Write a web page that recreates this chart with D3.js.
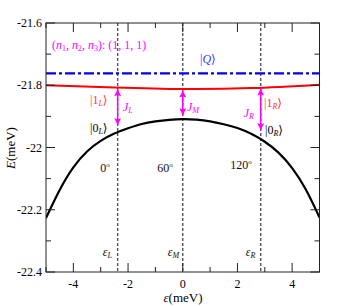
<!DOCTYPE html>
<html>
  <head>
    <script src="https://d3js.org/d3.v7.min.js"></script>
  </head>
  <body>
    <svg id="viz" width="353" height="306"></svg>
  </body>
  <script>
    // values
    const groundX = [-5, -4.5, -4, -3.5, -3, -2.5, -2, -1.5, -1, -0.5, 0, 0.5, 1, 1.5, 2, 2.5, 3, 3.5, 4, 4.5, 5];
    const groundE = [-22.227, -22.133, -22.06, -22.01, -21.977, -21.954, -21.938, -21.923, -21.916, -21.911, -21.908,
                     -21.91, -21.915, -21.925, -21.936, -21.955, -21.98, -22.014, -22.063, -22.13, -22.225];
    const excitedX = [-5, -2.5, 0, 2.5, 5];
    const excitedE = [-21.8, -21.807, -21.812, -21.809, -21.798];
    const qLevel = -21.762;
    const markers = [
      { name: "L", eps: -2.38, angle: "0" },
      { name: "M", eps: 0, angle: "60" },
      { name: "R", eps: 2.85, angle: "120" },
    ];
    const arrows = [
      { name: "L", eps: -2.38, top: -21.813, bottom: -21.928 },
      { name: "M", eps: 0, top: -21.817, bottom: -21.896 },
      { name: "R", eps: 2.85, top: -21.811, bottom: -21.944 },
    ];
    const xTicks = [-4, -2, 0, 2, 4];
    const yTicks = [-22.4, -22.2, -22, -21.8, -21.6];

    const svg = d3.select("svg#viz");
    const font = "'Liberation Serif', 'DejaVu Serif', serif";
    const mLeft = 46, mRight = 319.5, mTop = 23, mBottom = 272;

    const x = d3.scaleLinear().domain([-5, 5]).range([mLeft, mRight]);
    const y = d3.scaleLinear().domain([-22.4, -21.6]).range([mBottom, mTop]);

    svg.append("rect").attr("width", 353).attr("height", 306).attr("fill", "white");

    const defs = svg.append("defs");
    defs.append("clipPath").attr("id", "clip")
      .append("rect").attr("x", mLeft).attr("y", mTop).attr("width", mRight - mLeft).attr("height", mBottom - mTop);
    defs.append("marker")
      .attr("id", "head")
      .attr("viewBox", "0 0 10 10")
      .attr("refX", 10).attr("refY", 5)
      .attr("markerUnits", "userSpaceOnUse")
      .attr("markerWidth", 9).attr("markerHeight", 7)
      .attr("orient", "auto-start-reverse")
      .append("path").attr("d", "M0,0 L10,5 L0,10 L2,5 Z").attr("fill", "#ff00ff");

    // vertical dashed lines
    svg.selectAll("line.vl").data(markers).join("line")
      .attr("class", "vl")
      .attr("x1", d => x(d.eps)).attr("x2", d => x(d.eps))
      .attr("y1", mTop).attr("y2", mBottom)
      .attr("stroke", "#555").attr("stroke-width", 1.4).attr("stroke-dasharray", "3,2");

    const plot = svg.append("g").attr("clip-path", "url(#clip)");

    plot.append("line")
      .attr("x1", x(-5)).attr("x2", x(5)).attr("y1", y(qLevel)).attr("y2", y(qLevel))
      .attr("stroke", "#0000ee").attr("stroke-width", 2.2).attr("stroke-dasharray", "10,3,3,3");

    plot.append("path")
      .datum(excitedX.map((v, i) => [v, excitedE[i]]))
      .attr("d", d3.line().x(d => x(d[0])).y(d => y(d[1])).curve(d3.curveNatural))
      .attr("fill", "none").attr("stroke", "#ff0000").attr("stroke-width", 2);

    plot.append("path")
      .datum(groundX.map((v, i) => [v, groundE[i]]))
      .attr("d", d3.line().x(d => x(d[0])).y(d => y(d[1])).curve(d3.curveBasis))
      .attr("fill", "none").attr("stroke", "black").attr("stroke-width", 2.2);

    // double arrows
    svg.selectAll("line.arr").data(arrows).join("line")
      .attr("class", "arr")
      .attr("x1", d => x(d.eps)).attr("x2", d => x(d.eps))
      .attr("y1", d => y(d.top)).attr("y2", d => y(d.bottom))
      .attr("stroke", "#ff00ff").attr("stroke-width", 1.5)
      .attr("marker-start", "url(#head)").attr("marker-end", "url(#head)");

    // axes
    const g = svg.append("g").attr("fill", "none").attr("stroke", "#222").attr("stroke-width", 1);
    g.append("rect").attr("x", mLeft).attr("y", mTop).attr("width", mRight - mLeft).attr("height", mBottom - mTop);
    d3.range(-5, 5.01, 1).forEach(v => {
      const len = v % 2 === 0 ? 9 : 5;
      g.append("line").attr("x1", x(v)).attr("x2", x(v)).attr("y1", mBottom).attr("y2", mBottom - len);
      g.append("line").attr("x1", x(v)).attr("x2", x(v)).attr("y1", mTop).attr("y2", mTop + len);
    });
    d3.range(-22.4, -21.59, 0.1).forEach((v, i) => {
      const len = i % 2 === 0 ? 9 : 5;
      g.append("line").attr("x1", mLeft).attr("x2", mLeft + len).attr("y1", y(v)).attr("y2", y(v));
      g.append("line").attr("x1", mRight).attr("x2", mRight - len).attr("y1", y(v)).attr("y2", y(v));
    });

    const txt = svg.append("g").style("font-family", font).style("font-size", "12px");
    txt.selectAll("text.xt").data(xTicks).join("text")
      .attr("x", d => x(d)).attr("y", 288).attr("text-anchor", "middle").text(d => d);
    txt.selectAll("text.yt").data(yTicks).join("text")
      .attr("x", 42).attr("y", d => y(d) + 4).attr("text-anchor", "end")
      .text(d => d3.format(".1f")(d).replace(".0", "").replace("−", "-"));

    // axis titles
    const xl = txt.append("text").attr("x", 183).attr("y", 302).attr("text-anchor", "middle").style("font-size", "13px");
    xl.append("tspan").attr("font-style", "italic").text("ε");
    xl.append("tspan").text("(meV)");
    const yl = txt.append("text").attr("transform", "translate(15,148) rotate(-90)").attr("text-anchor", "middle").style("font-size", "13px");
    yl.append("tspan").attr("font-style", "italic").text("E");
    yl.append("tspan").text("(meV)");

    // ket helper: |n_s>
    function ket(xp, yp, main, sub, color, italicMain) {
      const t = txt.append("text").attr("x", xp).attr("y", yp).attr("fill", color);
      t.append("tspan").text("|");
      t.append("tspan").attr("font-style", italicMain ? "italic" : null).text(main);
      if (sub) t.append("tspan").attr("font-style", "italic").style("font-size", "8px").attr("dy", 2).text(sub);
      t.append("tspan").attr("dy", sub ? -2 : 0).text("⟩");
    }
    ket(200, 63, "Q", null, "#3333ff", true);
    ket(90, 104, "1", "L", "#ff3333", false);
    ket(90, 132, "0", "L", "black", false);
    ket(264, 107, "1", "R", "#ff3333", false);
    ket(265, 134, "0", "R", "black", false);

    function jlab(xp, yp, sub, anchor) {
      const t = txt.append("text").attr("x", xp).attr("y", yp).attr("fill", "#ff00ff")
        .attr("font-style", "italic").attr("text-anchor", anchor || "start");
      t.append("tspan").text("J");
      t.append("tspan").style("font-size", "8px").attr("dy", 2).text(sub);
    }
    jlab(123, 111, "L");
    jlab(187, 111, "M");
    jlab(254, 117, "R", "end");

    // legend of quantum numbers
    const nl = txt.append("text").attr("x", 52).attr("y", 49).attr("fill", "#ff00ff");
    nl.append("tspan").text("(");
    [["1", ", "], ["2", ", "], ["3", ")"]].forEach(p => {
      nl.append("tspan").attr("font-style", "italic").text("n");
      nl.append("tspan").style("font-size", "8px").attr("dy", 2).text(p[0]);
      nl.append("tspan").attr("dy", -2).text(p[1]);
    });
    nl.append("tspan").text(": (1, 1, 1)");

    // angles and epsilon labels
    const angX = [105, 165, 241];
    markers.forEach((m, i) => {
      const t = txt.append("text").attr("x", angX[i]).attr("y", m.name === "R" ? 169 : 172)
        .attr("text-anchor", "middle").attr("fill", "#111");
      t.append("tspan").text(m.angle);
      t.append("tspan").style("font-size", "7px").attr("dy", -5).text("o");
      const e = txt.append("text").attr("x", x(m.eps) - 15).attr("y", 256).attr("fill", "#111").attr("font-style", "italic");
      e.append("tspan").style("font-size", "12px").text("ε");
      e.append("tspan").style("font-size", "8px").attr("dy", 2).text(m.name);
    });
  </script>
  <style>
    body {
      margin: 0px;
    }
  </style>
</html>
